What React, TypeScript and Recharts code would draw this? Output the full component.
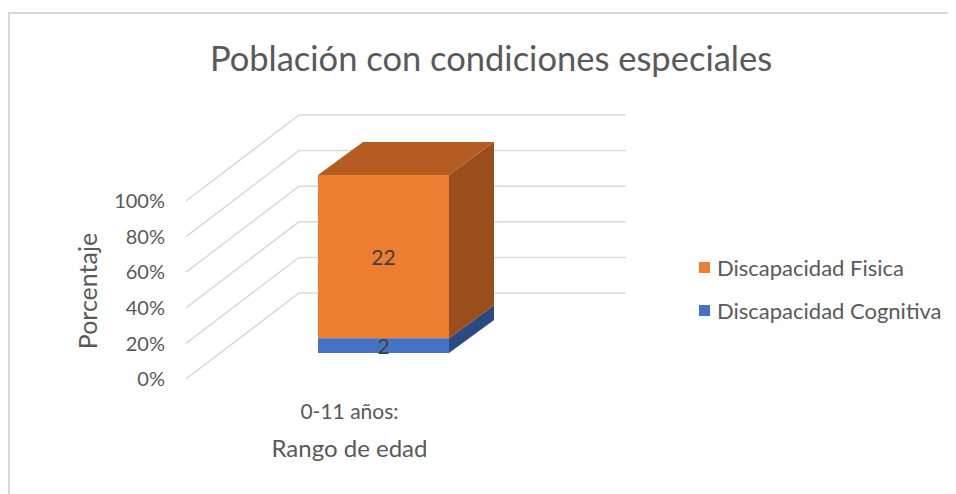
import { BarChart, Bar, XAxis, YAxis, CartesianGrid, Legend } from "recharts";

const categories = ["0-11 años:"];
const cognitiva = [2];
const fisica = [22];
const yTicks = [0, 0.2, 0.4, 0.6, 0.8, 1];
const seriesNames = { fisica: "Discapacidad Fisica", cognitiva: "Discapacidad Cognitiva" };
const legendOrder = ["Discapacidad Fisica", "Discapacidad Cognitiva"];

const data = categories.map((rango, i) => ({
  rango,
  cognitiva: cognitiva[i],
  fisica: fisica[i],
}));

// fake 3D geometry (px)
const WALL = { x: 113, y: -86 }; // front plane -> back wall
const BAR_SHIFT = { x: 34, y: -26 }; // front plane -> bar front face
const BAR_DEPTH = { x: 45, y: -33 };

const TEXT = "#595959";
const FONT = "Lato, 'Open Sans', sans-serif";

const box = (key: string, front: string, side: string, top: string | null) => (props: any) => {
  const { x, y, width, height, payload } = props;
  const fx = x + BAR_SHIFT.x;
  const fy = y + BAR_SHIFT.y;
  const dx = BAR_DEPTH.x;
  const dy = BAR_DEPTH.y;
  return (
    <g>
      <rect x={fx} y={fy} width={width} height={height} fill={front} />
      <polygon
        points={`${fx + width},${fy} ${fx + width + dx},${fy + dy} ${fx + width + dx},${fy + height + dy} ${fx + width},${fy + height}`}
        fill={side}
      />
      {top && (
        <polygon
          points={`${fx},${fy} ${fx + dx},${fy + dy} ${fx + width + dx},${fy + dy} ${fx + width},${fy}`}
          fill={top}
        />
      )}
      <text
        x={fx + width / 2}
        y={fy + height / 2}
        textAnchor="middle"
        dominantBaseline="central"
        fontSize={21}
        fontFamily={FONT}
        fill="#404040"
      >
        {payload[key]}
      </text>
    </g>
  );
};

const gridLine = (p: any) => (
  <path
    key={`g-${p.index}-${p.y1}`}
    d={`M${p.x1},${p.y1} L${p.x1 + WALL.x},${p.y1 + WALL.y} L${p.x2 + WALL.x},${p.y1 + WALL.y}`}
    stroke="#d9d9d9"
    strokeWidth={1.5}
    fill="none"
  />
);

const LegendContent = (props: any) => {
  const items = [...(props.payload || [])].sort(
    (a: any, b: any) => legendOrder.indexOf(a.value) - legendOrder.indexOf(b.value)
  );
  return (
    <div>
      {items.map((it: any) => (
        <div key={it.value} style={{ display: "flex", alignItems: "center", height: 43 }}>
          <span style={{ width: 11, height: 11, background: it.color, marginRight: 7 }} />
          <span style={{ fontSize: 22, color: TEXT, fontFamily: FONT }}>{it.value}</span>
        </div>
      ))}
    </div>
  );
};

export default function App() {
  return (
    <div
      style={{
        position: "relative",
        marginTop: 4,
        width: 948,
        height: 482,
        borderTop: "2px solid #d9d9d9",
        borderLeft: "2px solid #d9d9d9",
        fontFamily: FONT,
      }}
    >
      <div
        style={{
          position: "absolute",
          left: 0,
          width: 962,
          top: 26,
          textAlign: "center",
          fontSize: 34.5,
          lineHeight: "35px",
          color: TEXT,
          zIndex: 1,
        }}
      >
        Población con condiciones especiales
      </div>
      <BarChart
        width={946}
        height={480}
        data={data}
        stackOffset="expand"
        margin={{ top: 187, right: 443, bottom: 37, left: 76 }}
      >
        <CartesianGrid vertical={false} horizontal={gridLine} />
        <XAxis
          dataKey="rango"
          axisLine={false}
          tickLine={false}
          tickSize={0}
          tickMargin={25}
          height={78}
          tick={{ fontSize: 21, fill: TEXT, fontFamily: FONT }}
          label={{ value: "Rango de edad", position: "insideBottom", offset: 0, fontSize: 24, fill: TEXT, fontFamily: FONT }}
        />
        <YAxis
          width={100}
          domain={[0, 1]}
          ticks={yTicks}
          axisLine={false}
          tickLine={false}
          tickSize={12}
          tickMargin={9}
          tickFormatter={(v: number) => `${Math.round(v * 100)}%`}
          tick={{ fontSize: 20, fill: TEXT, fontFamily: FONT }}
          label={{
            content: (p: any) => {
              const vb = p.viewBox;
              const cx = vb.x + 1;
              const cy = vb.y + vb.height / 2 + 1;
              return (
                <text
                  x={cx}
                  y={cy}
                  transform={`rotate(-90 ${cx} ${cy})`}
                  textAnchor="middle"
                  dominantBaseline="central"
                  fontSize={25}
                  fill={TEXT}
                  fontFamily={FONT}
                >
                  Porcentaje
                </text>
              );
            },
          }}
        />
        <Legend
          layout="vertical"
          verticalAlign="middle"
          align="center"
          content={<LegendContent />}
          wrapperStyle={{ position: "absolute", left: 689, top: 232, width: 270 }}
        />
        <Bar
          dataKey="cognitiva"
          name={seriesNames.cognitiva}
          stackId="a"
          fill="#4472C4"
          barSize={131}
          isAnimationActive={false}
          shape={box("cognitiva", "#4472C4", "#2A4A80", null)}
        />
        <Bar
          dataKey="fisica"
          name={seriesNames.fisica}
          stackId="a"
          fill="#ED7D31"
          barSize={131}
          isAnimationActive={false}
          shape={box("fisica", "#ED7D31", "#9A4E1C", "#B45B22")}
        />
      </BarChart>
    </div>
  );
}
